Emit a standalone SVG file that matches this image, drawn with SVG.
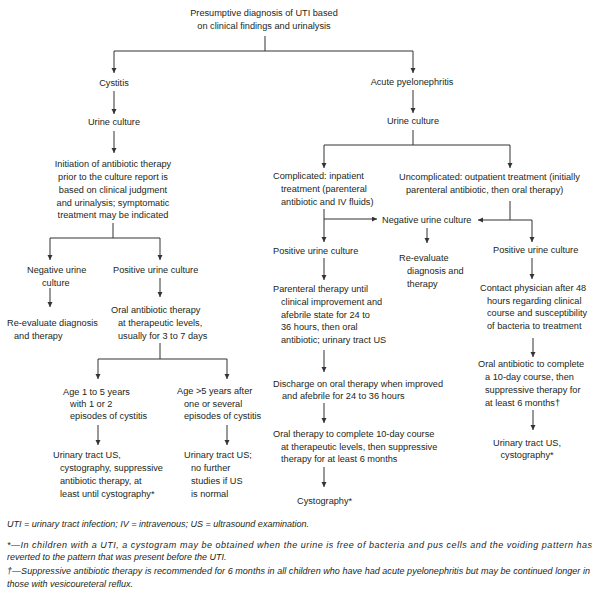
<svg xmlns="http://www.w3.org/2000/svg" width="600" height="603" viewBox="0 0 600 603">
<style>
text{font-family:"Liberation Sans",Arial,sans-serif;font-size:9.2px;fill:#231f20}
.m{text-anchor:middle}
.fn{font-style:italic;font-size:9px}
.c line,.c path{stroke:#333;stroke-width:1;fill:none}
.a{marker-end:url(#ah)}
</style>
<defs>
<marker id="ah" markerUnits="userSpaceOnUse" markerWidth="6" markerHeight="6" refX="5" refY="2.5" orient="auto">
<path d="M0,0 L5,2.5 L0,5 z" fill="#333"/>
</marker>
</defs>
<rect width="600" height="603" fill="#fff"/>
<g class="c" id="connectors">
<line x1="265" y1="36" x2="265" y2="51"/>
<line x1="114" y1="51" x2="413" y2="51"/>
<line class="a" x1="114" y1="51" x2="114" y2="73"/>
<line class="a" x1="413" y1="51" x2="413" y2="73"/>
<line class="a" x1="114" y1="91" x2="114" y2="114"/>
<line class="a" x1="114" y1="131" x2="114" y2="153"/>
<line x1="113" y1="223" x2="113" y2="238"/>
<line x1="50" y1="238" x2="160" y2="238"/>
<line class="a" x1="50" y1="238" x2="50" y2="260"/>
<line class="a" x1="160" y1="238" x2="160" y2="260"/>
<line class="a" x1="50" y1="288" x2="50" y2="307"/>
<line class="a" x1="160" y1="278" x2="160" y2="297"/>
<line x1="160" y1="343" x2="160" y2="359"/>
<line x1="98" y1="359" x2="227" y2="359"/>
<line class="a" x1="98" y1="359" x2="98" y2="379"/>
<line class="a" x1="227" y1="359" x2="227" y2="379"/>
<line class="a" x1="98" y1="425" x2="98" y2="445"/>
<line class="a" x1="227" y1="425" x2="227" y2="445"/>
<line class="a" x1="413" y1="90" x2="413" y2="113"/>
<line x1="413" y1="130" x2="413" y2="145"/>
<line x1="324" y1="145" x2="510" y2="145"/>
<line class="a" x1="324" y1="145" x2="324" y2="168"/>
<line class="a" x1="510" y1="145" x2="510" y2="168"/>
<line class="a" x1="324" y1="209" x2="324" y2="242"/>
<line class="a" x1="324" y1="219" x2="377" y2="219"/>
<line x1="510" y1="201" x2="510" y2="220"/>
<line class="a" x1="510" y1="220" x2="478" y2="220"/>
<path class="a" d="M510,220 H532 V242"/>
<line class="a" x1="427" y1="228" x2="427" y2="243"/>
<line class="a" x1="324" y1="258" x2="324" y2="280"/>
<line class="a" x1="324" y1="350" x2="324" y2="372"/>
<line class="a" x1="324" y1="403" x2="324" y2="423"/>
<line class="a" x1="324" y1="467" x2="324" y2="487"/>
<line class="a" x1="532" y1="258" x2="532" y2="279"/>
<line class="a" x1="533" y1="338" x2="533" y2="357"/>
<line class="a" x1="533" y1="410" x2="533" y2="430"/>
</g>
<g id="title"><text class="m" x="264" y="16">Presumptive diagnosis of UTI based<tspan x="264" y="29">on clinical findings and urinalysis</tspan></text></g>
<g id="cystitis"><text class="m" x="114" y="86">Cystitis</text></g>
<g id="urine-culture-left"><text class="m" x="114" y="125">Urine culture</text></g>
<g id="initiation"><text class="m" x="113" y="167">Initiation of antibiotic therapy<tspan x="113" y="180">prior to the culture report is</tspan><tspan x="113" y="193">based on clinical judgment</tspan><tspan x="113" y="206">and urinalysis; symptomatic</tspan><tspan x="113" y="218">treatment may be indicated</tspan></text></g>
<g id="negative-left"><text x="27" y="273">Negative urine<tspan x="42" y="286">culture</tspan></text></g>
<g id="positive-left"><text x="113" y="273">Positive urine culture</text></g>
<g id="reevaluate-left"><text x="7" y="326">Re-evaluate diagnosis<tspan x="14" y="339">and therapy</tspan></text></g>
<g id="oral-left"><text x="111" y="313">Oral antibiotic therapy<tspan x="118" y="326">at therapeutic levels,</tspan><tspan x="118" y="339">usually for 3 to 7 days</tspan></text></g>
<g id="age1to5"><text x="63" y="395">Age 1 to 5 years<tspan x="70" y="407">with 1 or 2</tspan><tspan x="70" y="419">episodes of cystitis</tspan></text></g>
<g id="age5plus"><text x="177" y="394">Age &gt;5 years after<tspan x="184" y="407">one or several</tspan><tspan x="184" y="419">episodes of cystitis</tspan></text></g>
<g id="us-left-1"><text x="53" y="458">Urinary tract US,<tspan x="60" y="471">cystography, suppressive</tspan><tspan x="60" y="484">antibiotic therapy, at</tspan><tspan x="60" y="497">least until cystography*</tspan></text></g>
<g id="us-left-2"><text x="184" y="458">Urinary tract US;<tspan x="191" y="471">no further</tspan><tspan x="191" y="484">studies if US</tspan><tspan x="191" y="497">is normal</tspan></text></g>
<g id="acute"><text class="m" x="412" y="85">Acute pyelonephritis</text></g>
<g id="urine-culture-right"><text class="m" x="413" y="124">Urine culture</text></g>
<g id="complicated"><text x="273" y="179">Complicated: inpatient<tspan x="281" y="192">treatment (parenteral</tspan><tspan x="281" y="205">antibiotic and IV fluids)</tspan></text></g>
<g id="uncomplicated"><text x="399" y="180">Uncomplicated: outpatient treatment (initially<tspan x="406" y="193">parenteral antibiotic, then oral therapy)</tspan></text></g>
<g id="negative-right"><text x="382" y="223">Negative urine culture</text></g>
<g id="reevaluate-right"><text x="399" y="261">Re-evaluate<tspan x="407" y="274">diagnosis and</tspan><tspan x="407" y="287">therapy</tspan></text></g>
<g id="positive-mid"><text x="273" y="254">Positive urine culture</text></g>
<g id="positive-right"><text x="493" y="253">Positive urine culture</text></g>
<g id="parenteral"><text x="273" y="292">Parenteral therapy until<tspan x="281" y="305">clinical improvement and</tspan><tspan x="281" y="318">afebrile state for 24 to</tspan><tspan x="281" y="330">36 hours, then oral</tspan><tspan x="281" y="343">antibiotic; urinary tract US</tspan></text></g>
<g id="contact"><text x="480" y="291">Contact physician after 48<tspan x="487" y="304">hours regarding clinical</tspan><tspan x="487" y="316">course and susceptibility</tspan><tspan x="487" y="329">of bacteria to treatment</tspan></text></g>
<g id="discharge"><text x="273" y="387">Discharge on oral therapy when improved<tspan x="282" y="399">and afebrile for 24 to 36 hours</tspan></text></g>
<g id="oral-therapy"><text x="273" y="437">Oral therapy to complete 10-day course<tspan x="281" y="450">at therapeutic levels, then suppressive</tspan><tspan x="281" y="462">therapy for at least 6 months</tspan></text></g>
<g id="cystography"><text x="297" y="504">Cystography*</text></g>
<g id="oral-right"><text x="478" y="367">Oral antibiotic to complete<tspan x="485" y="380">a 10-day course, then</tspan><tspan x="485" y="393">suppressive therapy for</tspan><tspan x="485" y="406">at least 6 months†</tspan></text></g>
<g id="us-right"><text class="m" x="527" y="446">Urinary tract US,<tspan x="527" y="458">cystography*</tspan></text></g>
<g id="footnotes">
<text class="fn" x="7" y="527">UTI = urinary tract infection; IV = intravenous; US = ultrasound examination.</text>
<text class="fn" x="7" y="548" textLength="585" lengthAdjust="spacing">*—In children with a UTI, a cystogram may be obtained when the urine is free of bacteria and pus cells and the voiding pattern has</text>
<text class="fn" x="7" y="560">reverted to the pattern that was present before the UTI.</text>
<text class="fn" x="7" y="574" textLength="583" lengthAdjust="spacing">†—Suppressive antibiotic therapy is recommended for 6 months in all children who have had acute pyelonephritis but may be continued longer in</text>
<text class="fn" x="7" y="587">those with vesicoureteral reflux.</text>
</g>
</svg>
